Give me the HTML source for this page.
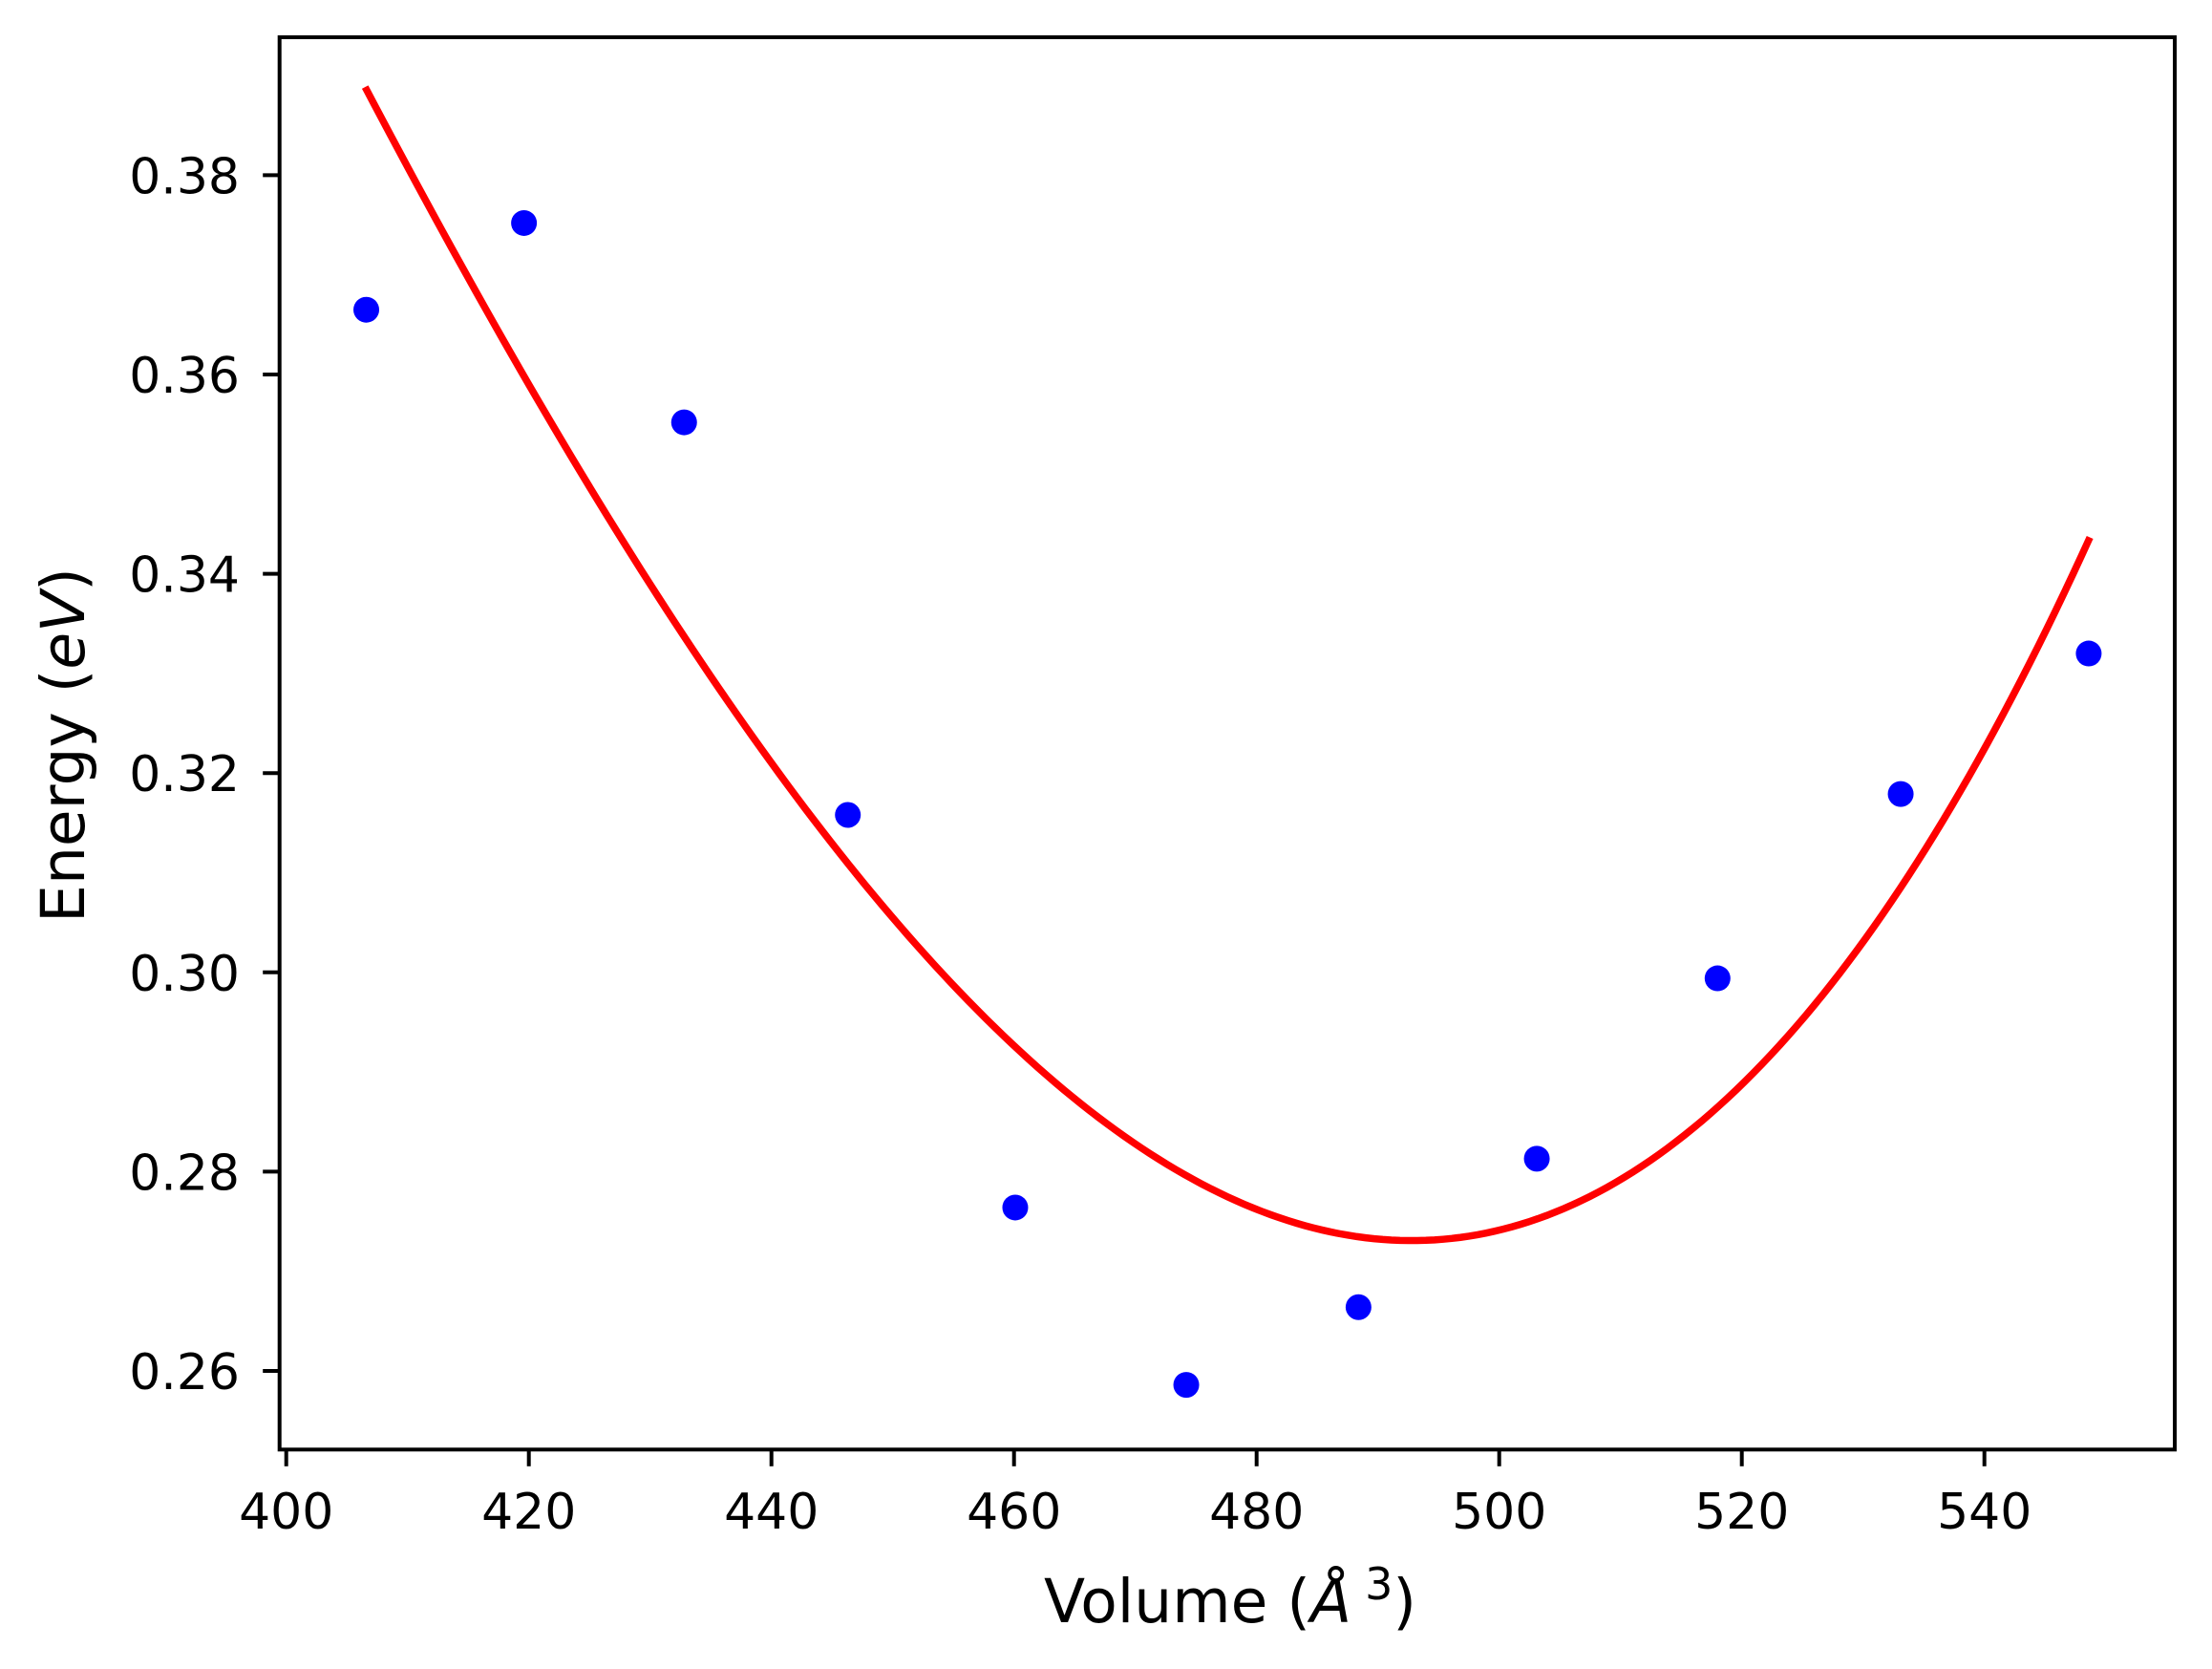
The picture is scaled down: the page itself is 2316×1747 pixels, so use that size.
<!DOCTYPE html>
<html><head><meta charset="utf-8"><style>
body{margin:0;background:#fff}
svg{display:block;font-family:"DejaVu Sans","Liberation Sans",sans-serif}
</style></head><body>
<svg id="chart" width="2316" height="1747" viewBox="0 0 2316 1747" xmlns="http://www.w3.org/2000/svg">
<rect width="2316" height="1747" fill="#fff"/>
<g id="plot"></g>
</svg>
<script>
const xTicks = [400,420,440,460,480,500,520,540];
const yTicks = [0.26,0.28,0.30,0.32,0.34,0.36,0.38];
const yTickLabels = ["0.26","0.28","0.30","0.32","0.34","0.36","0.38"];
const pointVolumes = [406.6,419.6,432.8,446.3,460.1,474.2,488.4,503.1,518.0,533.1,548.6];
const pointEnergies = [0.3665,0.3752,0.3552,0.3158,0.2764,0.2586,0.2664,0.2813,0.2994,0.3179,0.3320];
const fitVolumes = [406.5,420,433,446.3,460.1,474.2,483,488.4,492,497,503.1,511,518,526,533.1,541,548.7];
const fitEnergies = [0.3877,0.3602,0.3345,0.3113,0.2907,0.2790,0.2748,0.2735,0.2732,0.2737,0.2756,0.2800,0.2865,0.2963,0.3099,0.3245,0.3430];

const NS="http://www.w3.org/2000/svg";
const L=292.7,R=2277,T=39,B=1517.3;
function xs(v){return 299.7+(v-400)*12.7;}
function ys(e){return 1435+(0.26-e)*10430;}
const g=document.getElementById('plot');
function mk(tag,attrs,parent){const e=document.createElementNS(NS,tag);for(const k in attrs)e.setAttribute(k,attrs[k]);(parent||g).appendChild(e);return e;}

// least-squares cubic through the read fit samples
function solve(A,b){const n=b.length;for(let i=0;i<n;i++){let m=i;for(let k=i+1;k<n;k++)if(Math.abs(A[k][i])>Math.abs(A[m][i]))m=k;[A[i],A[m]]=[A[m],A[i]];[b[i],b[m]]=[b[m],b[i]];for(let k=i+1;k<n;k++){const f=A[k][i]/A[i][i];for(let j=i;j<n;j++)A[k][j]-=f*A[i][j];b[k]-=f*b[i];}}const x=new Array(n).fill(0);for(let i=n-1;i>=0;i--){let s=b[i];for(let j=i+1;j<n;j++)s-=A[i][j]*x[j];x[i]=s/A[i][i];}return x;}
const deg=3,c0=480;
const A=[],bb=[];
for(let i=0;i<=deg;i++){A.push(new Array(deg+1).fill(0));bb.push(0);}
fitVolumes.forEach((v,k)=>{const t=(v-c0)/50;for(let i=0;i<=deg;i++){for(let j=0;j<=deg;j++)A[i][j]+=Math.pow(t,i+j);bb[i]+=fitEnergies[k]*Math.pow(t,i);}});
const coef=solve(A,bb);
function fe(v){const t=(v-c0)/50;let s=0;for(let i=0;i<=deg;i++)s+=coef[i]*Math.pow(t,i);return s;}
const v0=fitVolumes[0],v1=fitVolumes[fitVolumes.length-1];
let d="";
for(let i=0;i<=200;i++){const v=v0+(v1-v0)*i/200;d+=(i?" L":"M")+xs(v).toFixed(2)+","+ys(fe(v)).toFixed(2);}
const fit=mk('path',{d:d,fill:'none',stroke:'#ff0000','stroke-width':7.5});



pointVolumes.forEach((v,i)=>{
  const c=mk('circle',{cx:xs(v),cy:ys(pointEnergies[i]),r:13.5,fill:'#0000ff'});
  
  
});

const frame=mk('rect',{x:L,y:T,width:R-L,height:B-T,fill:'none',stroke:'#000','stroke-width':4});



xTicks.forEach(v=>{
  const x=xs(v);
  const t=mk('line',{x1:x,x2:x,y1:B,y2:B+17.5,stroke:'#000','stroke-width':4});
  
  
  const tx=mk('text',{x:x,y:1600,'font-size':52,'text-anchor':'middle',fill:'#000'});
  tx.textContent=String(v);
  
  
});
yTicks.forEach((e,i)=>{
  const y=ys(e);
  const t=mk('line',{x1:L-17.5,x2:L,y1:y,y2:y,stroke:'#000','stroke-width':4});
  
  
  const tx=mk('text',{x:251,y:y+19,'font-size':52,'text-anchor':'end',fill:'#000'});
  tx.textContent=yTickLabels[i];
  
  
});
</script>
<svg style="position:absolute;left:0;top:0" width="2316" height="1747" xmlns="http://www.w3.org/2000/svg" font-family="DejaVu Sans, Liberation Sans, sans-serif">
<text x="1288" y="1698" font-size="63" text-anchor="middle">Volume (<tspan font-style="italic">Å</tspan><tspan font-size="46" dx="14" dy="-24">3</tspan><tspan dy="24">)</tspan></text>
<text transform="translate(88,780) rotate(-90)" font-size="63" text-anchor="middle">Energy (<tspan font-style="italic">eV</tspan>)</text>
</svg>
</body></html>
